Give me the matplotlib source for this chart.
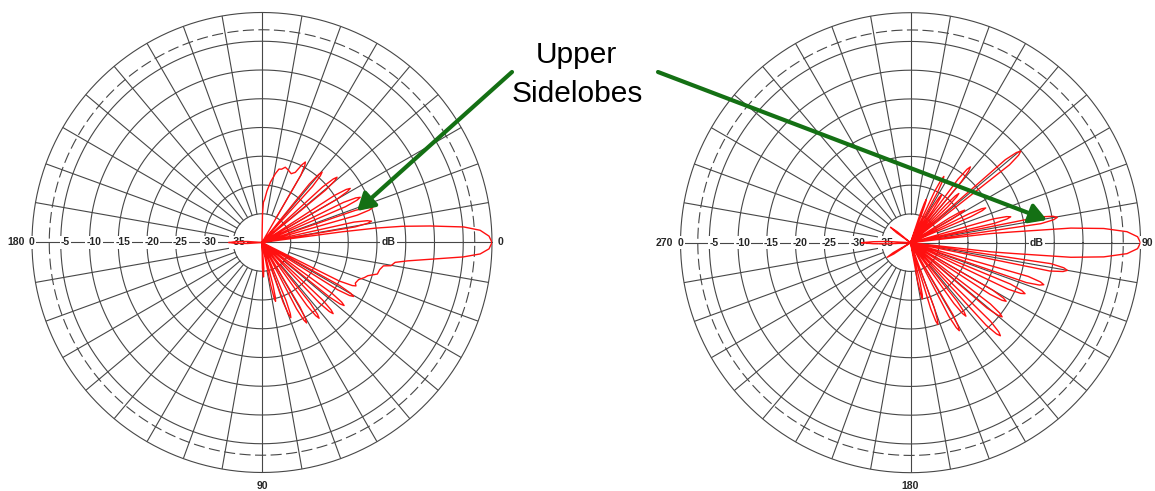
import matplotlib as mpl

mpl.use("Agg")
import matplotlib.pyplot as plt
import numpy as np

plt.rcParams["font.family"] = ["Liberation Sans", "DejaVu Sans"]

# radial grid (dB), shared by both plots
ring_db = [-35, -30, -25, -20, -15, -10, -5]
dashed_db = -3
spoke_deg = list(range(0, 360, 10))

# azimuth labels around each plot
left_angle_labels = {"left": "180", "right": "0", "bottom": "90"}
right_angle_labels = {"left": "270", "right": "90", "bottom": "180"}

# pattern vertices (angle deg counter-clockwise from the right axis, level dB)
left_pattern = [
    (-180, -34.3), (-178, -35.5), (-176, -37.5), (-174, -40),
    (-91, -40), (-89, -35.5), (-87.5, -34.0), (-86, -35.5), (-84, -40),
    (-78.5, -32.5), (-77.7, -30.2), (-77.0, -29.5), (-76.3, -30.2), (-75.5, -32.5), (-74.5, -40),
    (-70.5, -29.0), (-69.7, -26.7), (-69.0, -26.0), (-68.3, -26.7), (-67.5, -29.0), (-66.5, -40),
    (-62.5, -27.0), (-61.7, -24.7), (-61.0, -24.0), (-60.3, -24.7), (-59.5, -27.0), (-58.5, -40),
    (-54.5, -26.5), (-53.7, -24.2), (-53.0, -23.5), (-52.3, -24.2), (-51.5, -26.5), (-50.5, -40),
    (-46.5, -25.5), (-45.7, -23.2), (-45.0, -22.5), (-44.3, -23.2), (-43.5, -25.5), (-42.5, -40),
    (-39.0, -25.0), (-38.2, -22.7), (-37.5, -22.0), (-36.8, -22.7), (-36.0, -25.0), (-35.0, -40),
    (-32.0, -24.5), (-31.2, -22.2), (-30.5, -21.5), (-29.8, -22.2), (-29.0, -24.5), (-28.0, -40),
    (-26.5, -25.0), (-25.5, -22.6), (-24.8, -22.0), (-23.5, -22.3), (-21.0, -22.0), (-19.0, -21.2),
    (-17.4, -20.7), (-15.3, -19.2), (-13.0, -19.0), (-10.9, -18.5), (-10.2, -17.2), (-8.5, -16.6),
    (-7.2, -14.5), (-5.7, -10.6), (-4.1, -4.9), (-3.0, -2.0), (-1.6, -0.5), (0.0, 0.0),
    (1.6, -0.5), (3.2, -2.0), (4.4, -4.8), (5.6, -10.6), (6.6, -15.5), (7.2, -20.0),
    (7.6, -26.0), (8.1, -40),
    (9.5, -23.6), (10.3, -21.3), (11.0, -20.6), (11.7, -21.3), (12.5, -23.6), (13.5, -40),
    (16.0, -22.8), (16.8, -20.5), (17.5, -19.8), (18.2, -20.5), (19.0, -22.8), (20.0, -40),
    (23.2, -24.2), (24.0, -21.9), (24.7, -21.2), (25.4, -21.9), (26.2, -24.2), (27.2, -40),
    (30.0, -25.0), (30.8, -22.7), (31.5, -22.0), (32.2, -22.7), (33.0, -25.0), (34.0, -40),
    (39.5, -25.7), (40.3, -23.4), (41.0, -22.7), (41.7, -23.4), (42.5, -25.7), (43.5, -40),
    (48.0, -26.9), (48.8, -24.6), (49.5, -23.9), (50.2, -24.6), (51.0, -26.9), (52.0, -40),
    (58.5, -40), (60.0, -26.5), (61.0, -24.6), (61.7, -24.1), (62.8, -24.8), (64.6, -26.5),
    (67.0, -27.0), (70.0, -26.6), (72.8, -26.3), (75.0, -26.8), (77.0, -26.9), (79.0, -27.8),
    (82.0, -29.4), (84.5, -31.0), (86.5, -32.5), (88.0, -33.0), (89.0, -35.0), (90.0, -40),
    (174, -40), (176, -37.5), (178, -35.5), (180, -34.3),
]

right_pattern = [
    (-180, -31.5), (-178.5, -33.5), (-177, -36.0), (-175, -40),
    (-152, -40), (-150, -36.5), (-148, -35.2), (-146, -36.5), (-144, -40),
    (-81, -40), (-79.5, -33.0), (-78.7, -30.7), (-78.0, -30.0), (-77.3, -30.7), (-76.5, -33.0), (-75.5, -40),
    (-73.0, -28.0), (-72.2, -25.7), (-71.5, -25.0), (-70.8, -25.7), (-70.0, -28.0), (-69.0, -40),
    (-62.5, -25.5), (-61.7, -23.2), (-61.0, -22.5), (-60.3, -23.2), (-59.5, -25.5), (-58.5, -40),
    (-54.5, -27.0), (-53.7, -24.7), (-53.0, -24.0), (-52.3, -24.7), (-51.5, -27.0), (-50.5, -40),
    (-47.5, -20.5), (-46.7, -18.2), (-46.0, -17.5), (-45.3, -18.2), (-44.5, -20.5), (-43.5, -40),
    (-40.5, -22.5), (-39.7, -20.2), (-39.0, -19.5), (-38.3, -20.2), (-37.5, -22.5), (-36.5, -40),
    (-33.0, -23.5), (-32.2, -21.2), (-31.5, -20.5), (-30.8, -21.2), (-30.0, -23.5), (-29.0, -40),
    (-25.5, -21.2), (-24.7, -18.9), (-24.0, -18.2), (-23.3, -18.9), (-22.5, -21.2), (-21.5, -40),
    (-19.0, -18.7), (-18.2, -16.4), (-17.5, -15.7), (-16.8, -16.4), (-16.0, -18.7), (-15.0, -40),
    (-11.5, -15.3), (-10.7, -13.0), (-10.0, -12.3), (-9.3, -13.0), (-8.5, -15.3), (-7.5, -40),
    (-6.5, -26.0), (-6.0, -22.0), (-5.6, -17.9), (-5.2, -12.0), (-4.2, -6.3), (-2.9, -2.3),
    (-1.5, -0.5), (0.0, 0.0), (1.5, -0.5), (2.9, -2.3), (4.2, -6.3), (5.2, -12.0),
    (5.6, -17.9), (6.0, -22.0), (6.5, -26.0), (7.0, -40),
    (8.3, -17.1), (9.1, -14.8), (9.8, -14.1), (10.5, -14.8), (11.3, -17.1), (12.3, -40),
    (13.0, -25.0), (13.8, -22.7), (14.5, -22.0), (15.2, -22.7), (16.0, -25.0), (17.0, -40),
    (23.3, -28.6), (24.1, -26.3), (24.8, -25.6), (25.5, -26.3), (26.3, -28.6), (27.3, -40),
    (29.5, -32.0), (30.3, -29.7), (31.0, -29.0), (31.7, -29.7), (32.5, -32.0), (33.5, -40),
    (38.2, -18.1), (39.0, -15.8), (39.7, -15.1), (40.4, -15.8), (41.2, -18.1), (42.2, -40),
    (44.0, -31.0), (44.8, -28.7), (45.5, -28.0), (46.2, -28.7), (47.0, -31.0), (48.0, -40),
    (50.2, -26.2), (51.0, -23.9), (51.7, -23.2), (52.4, -23.9), (53.2, -26.2), (54.2, -40),
    (55.5, -33.0), (56.3, -30.7), (57.0, -30.0), (57.7, -30.7), (58.5, -33.0), (59.5, -40),
    (61.8, -30.1), (62.6, -27.8), (63.3, -27.1), (64.0, -27.8), (64.8, -30.1), (65.8, -40),
    (68.5, -35.0), (69.3, -32.7), (70.0, -32.0), (70.7, -32.7), (71.5, -35.0), (72.5, -40),
    (138, -40), (140.5, -37.0), (142.4, -35.6), (144.5, -37.0), (147, -40),
    (175, -40), (177, -36.0), (178.5, -33.5), (180, -31.5),
]

GRID = "#474747"
RED = "#ff1010"
GREEN = "#147014"
LABEL = "#262626"


def draw_pattern_chart(ax, pattern, angle_labels, right_label_r=1.0):
    ax.set_theta_zero_location("E")
    ax.set_ylim(-40, 0)
    ax.grid(False)
    ax.set_xticks([])
    ax.set_yticks([])
    ax.spines["polar"].set_visible(False)

    circ = np.linspace(0, 2 * np.pi, 721)
    for db in ring_db + [0]:
        ax.plot(circ, np.full_like(circ, db), color=GRID, lw=0.8, zorder=1, clip_on=False)
    ax.plot(circ, np.full_like(circ, dashed_db), color=GRID, lw=0.8,
            linestyle=(0, (10, 4)), zorder=1)
    for a in spoke_deg:
        r0 = -40 if a % 180 == 0 else ring_db[0]
        ax.plot([np.radians(a)] * 2, [r0, 0], color=GRID, lw=0.8, zorder=1)

    kw = dict(fontsize=7.5, fontweight="bold", color=LABEL, va="center", zorder=3,
              bbox=dict(boxstyle="square,pad=0.12", fc="white", ec="none"))
    ax.text(np.pi, 0, "0", ha="center", **kw)
    for db in ring_db:
        ax.text(np.pi, db - 0.8, str(db), ha="center", **kw)
    ax.text(0, -18, "dB", ha="center", **kw)
    ax.text(np.pi, 1.3, angle_labels["left"], ha="right", **kw)
    ax.text(0, right_label_r, angle_labels["right"], ha="left", **kw)
    ax.text(1.5 * np.pi, 2.3, angle_labels["bottom"], ha="center", **kw)

    theta = np.radians([p[0] for p in pattern])
    level = [p[1] for p in pattern]
    ax.plot(theta, level, color=RED, lw=1.0, zorder=4)


fig = plt.figure(figsize=(11.55, 4.91), dpi=100)
ax_left = fig.add_axes([0.0277, 0.0377, 0.39827, 0.93686], projection="polar")
ax_right = fig.add_axes([0.5892, 0.0373, 0.39827, 0.93686], projection="polar")
draw_pattern_chart(ax_left, left_pattern, left_angle_labels, right_label_r=1.0)
draw_pattern_chart(ax_right, right_pattern, right_angle_labels, right_label_r=0.2)

# annotation layer in pixel coordinates (origin top-left)
over = fig.add_axes([0, 0, 1, 1], zorder=10)
over.set_xlim(0, 1155)
over.set_ylim(491, 0)
over.axis("off")
over.patch.set_alpha(0)
over.text(576, 63, "Upper", fontsize=21.5, ha="center", va="baseline", color="black")
over.text(577, 102, "Sidelobes", fontsize=21.5, ha="center", va="baseline", color="black")
arrow = dict(arrowstyle="-|>,head_length=0.6,head_width=0.35", color=GREEN, lw=3,
             mutation_scale=17, shrinkA=0, shrinkB=0)
over.annotate("", xy=(357, 211), xytext=(512, 72), arrowprops=arrow)
over.annotate("", xy=(1047, 220), xytext=(658, 72), arrowprops=arrow)

fig.savefig("out.png", dpi=100)
plt.close(fig)
